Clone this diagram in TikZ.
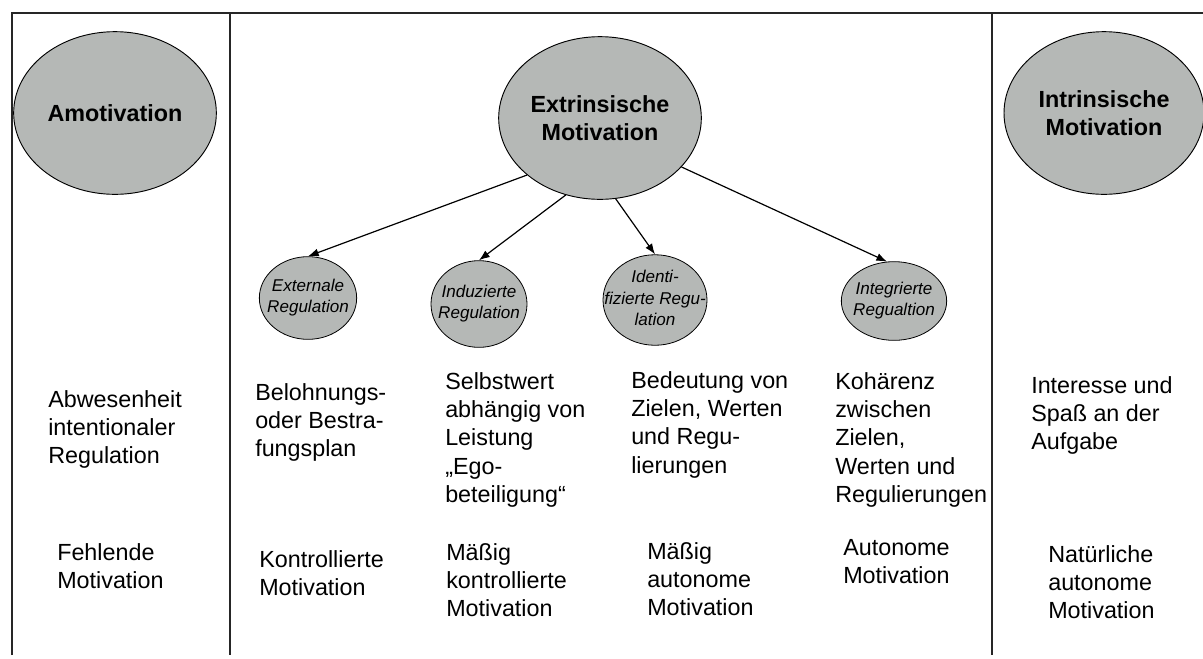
\documentclass[tikz,border=0pt]{standalone}
\usepackage{fontspec}
\setmainfont{Liberation Sans}
\usepackage{tikz}
\usetikzlibrary{shapes.geometric, arrows.meta}
\definecolor{ovalgray}{RGB}{181, 184, 182}
\newcommand{\ovaltext}[1]{\makebox[0pt]{\begin{tabular}{@{}c@{}}#1\end{tabular}}}

\begin{document}
\begin{tikzpicture}[
    x=0.75pt, y=-0.75pt,
    frame/.style={draw=black!85, line width=1.3pt},
    bigoval/.style={ellipse, draw=black, line width=0.7pt, fill=ovalgray, inner sep=0pt,
                    minimum width=152pt, minimum height=122pt, align=center,
                    font=\fontsize{17.5}{21.3}\selectfont\bfseries},
    smalloval/.style={ellipse, draw=black, line width=0.6pt, fill=ovalgray, inner sep=0pt,
                      minimum width=73pt, minimum height=62pt,
                      font=\fontsize{12.8}{16}\selectfont\itshape},
    desc/.style={anchor=north west, inner sep=0pt, align=left,
                 font=\fontsize{17.5}{21.3}\selectfont},
    arr/.style={-{Latex[length=8pt, width=6pt]}, line width=0.9pt}
]
    \useasboundingbox (0,0) rectangle (1203,658);

    % table lines
    \draw[frame] (12,655) -- (12,13) -- (1203,13);
    \draw[frame] (230,13) -- (230,655);
    \draw[frame] (992,13) -- (992,655);

    % main ovals
    \node[bigoval] (amot) at (115,113) {Amotivation};
    \node[bigoval] (extr) at (600,118) {Extrinsische\\Motivation};
    \node[bigoval, minimum width=150pt] (intr) at (1104,113) {Intrinsische\\Motivation};

    % regulation styles
    \node[smalloval] (extreg) at (308,298) {\ovaltext{Externale\\Regulation}};
    \node[smalloval, minimum width=72pt, minimum height=65pt] (indreg) at (479,304) {\ovaltext{Induzierte\\Regulation}};
    \node[smalloval, minimum width=78pt, minimum height=60pt] (idreg) at (655,300) {\ovaltext{Identi-\\fizierte Regu-\\lation}};
    \node[smalloval, minimum width=79pt, minimum height=59pt] (intreg) at (894,301) {\ovaltext{Integrierte\\Regualtion}};

    \draw[arr] (extr.218) -- (extreg.north);
    \draw[arr] (extr.246) -- (indreg.north);
    \draw[arr] (extr.281) -- (idreg.north);
    \draw[arr] (extr.329) -- (intreg.100);

    % descriptions
    \node[desc] (abw) at (48,390) {Abwesenheit\\intentionaler\\Regulation};
    \node[desc] (belo) at (255,383) {Belohnungs-\\oder Bestra-\\fungsplan};
    \node[desc] (selbst) at (445,372) {Selbstwert\\abhängig von\\Leistung\\„Ego-\\beteiligung“};
    \node[desc] (bedeut) at (631,371) {Bedeutung von\\Zielen, Werten\\und Regu-\\lierungen};
    \node[desc] (koh) at (835,372) {Kohärenz\\zwischen\\Zielen,\\Werten und\\Regulierungen};
    \node[desc] (inter) at (1031,376) {Interesse und\\Spaß an der\\Aufgabe};

    % kinds of motivation
    \node[desc] (fehl) at (57,543) {Fehlende\\Motivation};
    \node[desc] (kontr) at (259,550) {Kontrollierte\\Motivation};
    \node[desc] (maessigk) at (446,543) {Mäßig\\kontrollierte\\Motivation};
    \node[desc] (maessiga) at (647,542) {Mäßig\\autonome\\Motivation};
    \node[desc] (auto) at (843,539) {Autonome\\Motivation};
    \node[desc] (natur) at (1048,545) {Natürliche\\autonome\\Motivation};
\end{tikzpicture}
\end{document}
